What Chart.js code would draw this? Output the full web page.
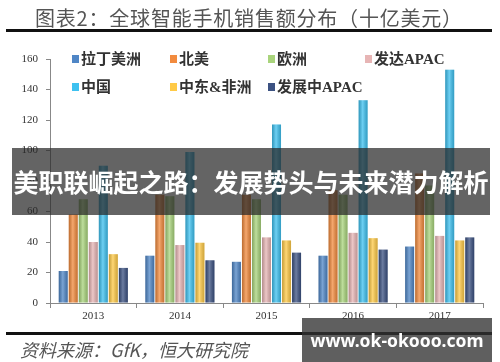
<!DOCTYPE html>
<html>
<head>
<meta charset="utf-8">
<script src="https://cdn.jsdelivr.net/npm/chart.js@4"></script>
<style>
  body { margin: 0; background: #fff; }
  #wrap { position: relative; width: 500px; height: 362px; overflow: hidden; font-family: "Noto Sans CJK SC", sans-serif; }
  #chartBox { position: absolute; left: 0; top: 0; width: 500px; height: 362px; }
  .title { position: absolute; left: 35px; top: 3px; font-size: 20px; color: #555; letter-spacing: 0.8px; white-space: nowrap; }
  .rule { position: absolute; left: 6px; width: 486px; height: 3px; background: #111; }
  .source { position: absolute; left: 20px; top: 336px; font-size: 18px; color: #555; font-style: italic; white-space: nowrap; }
  .leg { position: absolute; font-family: "Liberation Serif", "Noto Sans CJK SC", serif; font-weight: bold; font-size: 15px; color: #333; white-space: nowrap; line-height: 18px; }
  .leg i { display: inline-block; width: 7px; height: 8px; margin-right: 2px; vertical-align: 1px; }
  .banner { position: absolute; left: 12px; top: 148px; width: 478px; height: 67px; background: rgba(40,40,40,0.72);
            color: #fff; font-weight: bold; font-size: 25px; line-height: 67px; text-align: center; white-space: nowrap; }
  .wm { position: absolute; left: 302px; top: 318px; width: 190px; height: 44px; background: rgba(50,50,50,0.78);
        color: #fff; font-family: "Noto Sans", sans-serif; font-weight: bold; font-size: 17.5px; line-height: 44px; text-align: center; white-space: nowrap; }
</style>
</head>
<body>
<div id="wrap">
  <div id="chartBox"><canvas id="myChart" width="500" height="362"></canvas></div>
  <div class="title">图表2：全球智能手机销售额分布（十亿美元）</div>
  <div class="rule" style="top:29px"></div>
  <div id="legend"></div>
  <div class="rule" style="top:332px"></div>
  <div class="source">资料来源：GfK，恒大研究院</div>
  <div class="banner">美职联崛起之路：发展势头与未来潜力解析</div>
  <div class="wm">www.ok-okooo.com</div>
</div>
<script>
var years = ['2013', '2014', '2015', '2016', '2017'];
var seriesNames = ['拉丁美洲', '北美', '欧洲', '发达APAC', '中国', '中东&非洲', '发展中APAC'];
var latam = [21, 31, 27, 31, 37];
var northAmerica = [58, 71, 71, 74, 85];
var europe = [68, 70, 68, 71, 77];
var devApac = [40, 38, 43, 46, 44];
var china = [90, 99, 117, 133, 153];
var meAfrica = [32, 39.5, 41, 42.5, 41];
var emergApac = [23, 28, 33, 35, 43];
var yTicks = [0, 20, 40, 60, 80, 100, 120, 140, 160];

var seriesData = [latam, northAmerica, europe, devApac, china, meAfrica, emergApac];
var colors = ['#4f86c6', '#f28b3e', '#a9d47c', '#e7b5b5', '#3ec1f0', '#ffca47', '#3c5282'];

// legend, 4 columns x 2 rows
var legX = [72, 170, 268, 365];
var legY = [50, 78];
var legend = document.getElementById('legend');
seriesNames.forEach(function (name, i) {
    var d = document.createElement('div');
    d.className = 'leg';
    d.style.left = legX[i % 4] + 'px';
    d.style.top = legY[Math.floor(i / 4)] + 'px';
    d.innerHTML = '<i style="background:' + colors[i] + '"></i>' + name;
    legend.appendChild(d);
});

// shading over each bar, like a cylinder
var shadePlugin = {
    id: 'shade',
    afterDatasetsDraw: function (chart) {
        var c = chart.ctx;
        chart.data.datasets.forEach(function (ds, i) {
            chart.getDatasetMeta(i).data.forEach(function (bar) {
                var p = bar.getProps(['x', 'y', 'base', 'width'], true);
                var x0 = p.x - p.width / 2, x1 = p.x + p.width / 2;
                var g = c.createLinearGradient(x0, 0, x1, 0);
                g.addColorStop(0, 'rgba(0,0,0,0.22)');
                g.addColorStop(0.45, 'rgba(255,255,255,0.25)');
                g.addColorStop(1, 'rgba(0,0,0,0.18)');
                c.save();
                c.fillStyle = g;
                c.fillRect(x0, p.y, p.width, p.base - p.y);
                c.restore();
            });
        });
    }
};

var ctx = document.getElementById('myChart');
new Chart(ctx, {
    type: 'bar',
    data: {
        labels: years,
        datasets: seriesData.map(function (vals, i) {
            return {
                label: seriesNames[i],
                data: vals,
                backgroundColor: colors[i],
                borderWidth: 0,
                barPercentage: 0.9,
                categoryPercentage: 0.81
            };
        })
    },
    options: {
        responsive: false,
        animation: false,
        layout: { padding: { left: 0, right: 17, top: 59, bottom: 39 } },
        scales: {
            x: {
                afterFit: function (s) { s.height = 20; },
                grid: { drawOnChartArea: false, drawTicks: true, tickLength: 5, color: '#888' },
                border: { color: '#888', width: 1 },
                ticks: { font: { family: '"Liberation Serif", serif', size: 11 }, color: '#333', padding: 2 }
            },
            y: {
                min: 0,
                max: 160,
                afterFit: function (s) { s.width = 50; },
                afterBuildTicks: function (s) { s.ticks = yTicks.map(function (v) { return { value: v }; }); },
                grid: { drawOnChartArea: false, drawTicks: true, tickLength: 4, color: '#888' },
                border: { color: '#888', width: 1 },
                ticks: { font: { family: '"Liberation Serif", serif', size: 11 }, color: '#333', padding: 8 }
            }
        },
        plugins: {
            legend: { display: false },
            tooltip: { enabled: false }
        }
    },
    plugins: [shadePlugin]
});
</script>
</body>
</html>
